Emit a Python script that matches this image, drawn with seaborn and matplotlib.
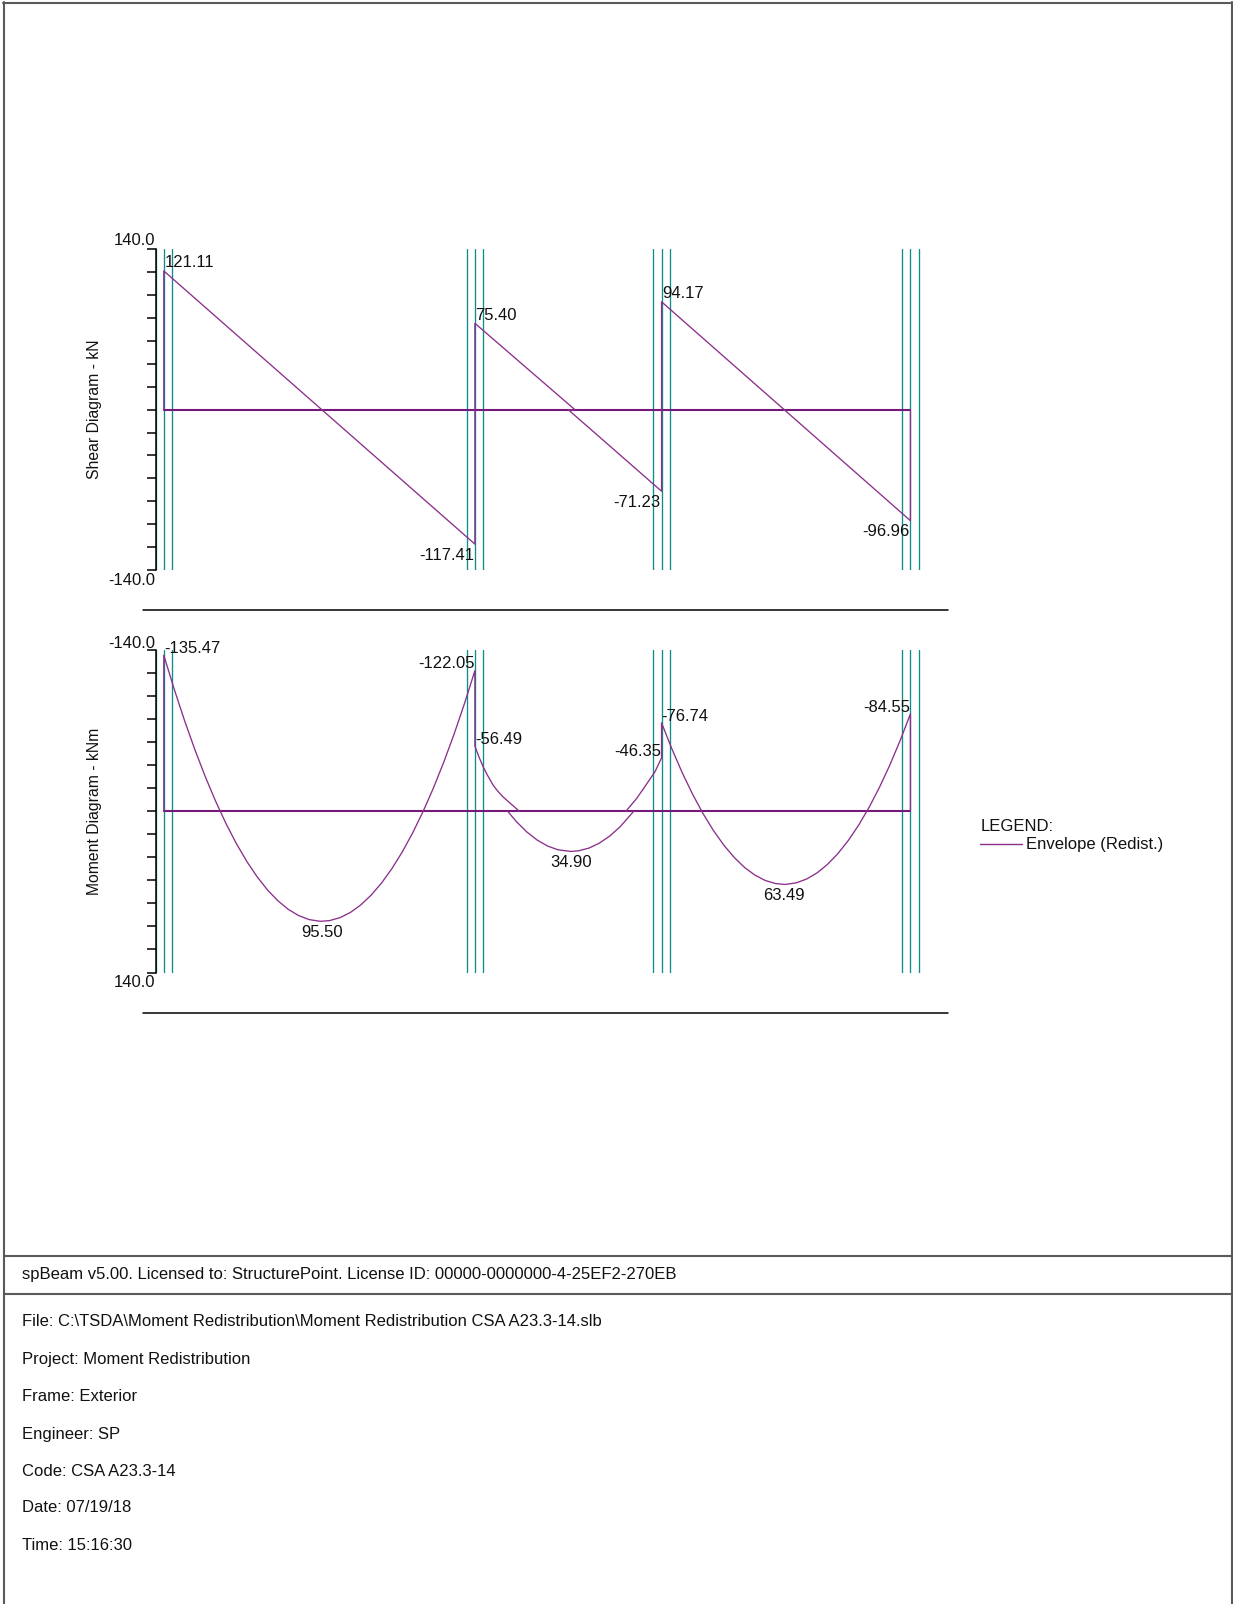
import numpy as np
import pandas as pd
import matplotlib
matplotlib.use("Agg")
import matplotlib.pyplot as plt
import seaborn as sns
from matplotlib.lines import Line2D

# ---------------- data ----------------
support_x = [0.0, 7.5, 12.0, 18.0]          # support centre lines (m)
column_width = 0.4                           # m
beam_start, beam_end = 0.0, 18.0

# shear envelope (kN), drawn as one connected path
shear_x = [0.0, 0.0, 7.5, 7.5, 9.91, 9.75, 12.0, 12.0, 18.0, 18.0]
shear_v = [0.0, 121.11, -117.41, 75.40, 0.0, 0.0, -71.23, 94.17, -96.96, 0.0]

shear_lab_x = [0.0, 7.5, 7.5, 12.0, 12.0, 18.0]
shear_lab_v = [121.11, -117.41, 75.40, -71.23, 94.17, -96.96]

# moment envelope (kNm), three segments
mom_a_x = [0.0, 0.0, 0.25, 0.5, 0.75, 1.0, 1.25, 1.5, 1.75, 2.0, 2.25, 2.5, 2.75, 3.0,
           3.25, 3.5, 3.75, 3.81, 4.0, 4.25, 4.5, 4.75, 5.0, 5.25, 5.5, 5.75, 6.0, 6.25,
           6.5, 6.75, 7.0, 7.25, 7.5, 7.5, 7.6, 7.7, 7.8, 7.94, 8.05, 8.18, 8.57]
mom_a_m = [0.0, -135.47, -106.13, -78.77, -53.41, -30.04, -8.67, 10.72, 28.10, 43.49,
           56.89, 68.31, 77.72, 85.14, 90.57, 94.02, 95.46, 95.50, 94.91, 92.36, 87.83,
           81.30, 72.78, 62.27, 49.76, 35.26, 18.77, 0.28, -20.19, -42.67, -67.14,
           -93.60, -122.05, -56.49, -47.0, -38.5, -31.5, -22.6, -17.5, -12.4, 0.0]
mom_b_x = [8.29, 8.5, 8.75, 9.0, 9.25, 9.5, 9.81, 10.0, 10.25, 10.5, 10.75, 11.0, 11.33]
mom_b_m = [0.0, 8.97, 17.93, 24.99, 30.16, 33.45, 34.90, 34.35, 31.98, 27.70, 21.55, 13.50, 0.0]
mom_c_x = [11.14, 11.40, 11.62, 11.84, 12.0, 12.0, 12.25, 12.5, 12.75, 13.0, 13.25, 13.5,
           13.75, 14.0, 14.25, 14.5, 14.75, 14.96, 15.0, 15.25, 15.5, 15.75, 16.0, 16.25,
           16.5, 16.75, 17.0, 17.25, 17.5, 17.75, 18.0, 18.0]
mom_c_m = [0.0, -11.1, -22.6, -34.2, -46.35, -76.74, -54.05, -33.35, -14.67, 2.02, 16.70,
           29.39, 40.07, 48.75, 55.43, 60.11, 62.79, 63.49, 63.46, 62.13, 58.81, 53.48,
           46.15, 36.81, 25.49, 12.15, -3.19, -20.53, -39.86, -61.21, -84.55, 0.0]

mom_lab_x = [0.0, 7.5, 7.5, 12.0, 12.0, 18.0, 3.81, 9.81, 14.96]
mom_lab_m = [-135.47, -122.05, -56.49, -46.35, -76.74, -84.55, 95.50, 34.90, 63.49]
mom_lab_align = ["left", "right", "left", "right", "left", "right", "center", "center", "center"]

y_limit = 140.0
y_step = 20.0

legend_title = "LEGEND:"
legend_label = "Envelope (Redist.)"
footer_license = "spBeam v5.00. Licensed to: StructurePoint. License ID: 00000-0000000-4-25EF2-270EB"
footer_lines = [
    "File: C:\\TSDA\\Moment Redistribution\\Moment Redistribution CSA A23.3-14.slb",
    "Project: Moment Redistribution",
    "Frame: Exterior",
    "Engineer: SP",
    "Code: CSA A23.3-14",
    "Date: 07/19/18",
    "Time: 15:16:30",
]

# ---------------- style ----------------
sns.set_style("white")
plt.rcParams["font.family"] = ["Liberation Sans", "DejaVu Sans"]

PURPLE = "#8b2f8b"
ZERO_PURPLE = "#74197a"
TEAL = "#0f8c8c"
BORDER = "#5a5a5a"

W, H = 1233, 1604
fig = plt.figure(figsize=(W / 100, H / 100), dpi=100)
fig.patch.set_facecolor("white")


def fx(px):
    return px / W


def fy(py):
    return 1 - py / H


def px_axes(left, top, right, bottom):
    return fig.add_axes([fx(left), fy(bottom), (right - left) / W, (bottom - top) / H])


PX_PER_M = 41.48
AX_LEFT, AX_RIGHT = 155.5, 935.5
x_lo = -column_width / 2
x_hi = x_lo + (AX_RIGHT - AX_LEFT) / PX_PER_M

ax_v = px_axes(AX_LEFT, 249.3, AX_RIGHT, 570.0)
ax_m = px_axes(AX_LEFT, 650.0, AX_RIGHT, 972.5)


def style_axis(ax, inverted):
    ax.set_xlim(x_lo, x_hi)
    if inverted:
        ax.set_ylim(y_limit, -y_limit)
    else:
        ax.set_ylim(-y_limit, y_limit)
    for s in ["top", "right", "bottom"]:
        ax.spines[s].set_visible(False)
    ax.spines["left"].set_color("black")
    ax.spines["left"].set_linewidth(1.1)
    ax.set_xticks([])
    ax.set_yticks(np.arange(-y_limit, y_limit + 0.1, y_step))
    ax.set_yticklabels([])
    ax.tick_params(axis="y", direction="out", length=6.7, width=1.1, colors="black", left=True)
    ax.set_xlabel("")
    ax.set_ylabel("")
    ax.patch.set_alpha(0)
    for s in support_x:
        for off in (-column_width / 2, 0.0, column_width / 2):
            ax.axvline(s + off, color=TEAL, lw=0.95, zorder=1)
    sns.lineplot(x=[beam_start, beam_end], y=[0.0, 0.0], ax=ax, color=ZERO_PURPLE,
                 lw=1.5, sort=False, estimator=None, zorder=3)


style_axis(ax_v, inverted=False)
style_axis(ax_m, inverted=True)

# shear diagram
sns.lineplot(x=shear_x, y=shear_v, ax=ax_v, color=PURPLE, lw=0.95, sort=False,
             estimator=None, zorder=4)
for x, v in zip(shear_lab_x, shear_lab_v):
    if v >= 0:
        ax_v.annotate(f"{v:.2f}", xy=(x, v), xytext=(0.5, 2.5), textcoords="offset points",
                      ha="left", va="baseline", fontsize=12, color="#111111")
    else:
        ax_v.annotate(f"{v:.2f}", xy=(x, v), xytext=(-0.5, -2.5), textcoords="offset points",
                      ha="right", va="top", fontsize=12, color="#111111")

# moment diagram
mom_df = pd.concat([
    pd.DataFrame({"x": mom_a_x, "m": mom_a_m, "seg": "a"}),
    pd.DataFrame({"x": mom_b_x, "m": mom_b_m, "seg": "b"}),
    pd.DataFrame({"x": mom_c_x, "m": mom_c_m, "seg": "c"}),
], ignore_index=True)
sns.lineplot(data=mom_df, x="x", y="m", units="seg", estimator=None, sort=False,
             ax=ax_m, color=PURPLE, lw=0.95, zorder=4)
ax_m.set_xlabel("")
ax_m.set_ylabel("")
for x, m, al in zip(mom_lab_x, mom_lab_m, mom_lab_align):
    if m < 0:
        ax_m.annotate(f"{m:.2f}", xy=(x, m), xytext=(0.0, 1.7), textcoords="offset points",
                      ha=al, va="baseline", fontsize=12, color="#111111")
    else:
        ax_m.annotate(f"{m:.2f}", xy=(x, m), xytext=(0.0, -2.6), textcoords="offset points",
                      ha=al, va="top", fontsize=12, color="#111111")

# end tick labels of the axes
for ax, top_val, bot_val, top_dy, bot_dy in [
        (ax_v, y_limit, -y_limit, 3.1, -10.8),
        (ax_m, -y_limit, y_limit, 1.4, -10.2)]:
    ax.annotate(f"{top_val:.1f}", xy=(0, top_val), xycoords=("axes fraction", "data"),
                xytext=(0, top_dy), textcoords="offset points", ha="right", va="baseline",
                fontsize=12, color="#111111")
    ax.annotate(f"{bot_val:.1f}", xy=(0, bot_val), xycoords=("axes fraction", "data"),
                xytext=(0, bot_dy), textcoords="offset points", ha="right", va="baseline",
                fontsize=12, color="#111111")

# axis titles
fig.text(fx(94), fy(409.7), "Shear Diagram - kN", rotation=90, ha="center", va="center",
         fontsize=11.3, color="#111111")
fig.text(fx(94), fy(811.3), "Moment Diagram - kNm", rotation=90, ha="center", va="center",
         fontsize=11.3, color="#111111")

# separator lines under the diagrams
for yy in (610.0, 1012.5):
    fig.add_artist(Line2D([fx(142.7), fx(947.5)], [fy(yy), fy(yy)], color="black", lw=1.1))

# legend
fig.text(fx(980.5), fy(826.5), legend_title, ha="left", va="center", fontsize=12, color="#111111")
fig.add_artist(Line2D([fx(980), fx(1022)], [fy(843.5), fy(843.5)], color=PURPLE, lw=1.0))
fig.text(fx(1025.5), fy(844.5), legend_label, ha="left", va="center", fontsize=12, color="#111111")

# page border and footer boxes
fig.add_artist(Line2D([fx(4), fx(4)], [fy(2), fy(H)], color=BORDER, lw=1.5))
fig.add_artist(Line2D([fx(3), fx(1232)], [fy(3), fy(3)], color=BORDER, lw=1.5))
fig.add_artist(Line2D([fx(1231.5), fx(1231.5)], [fy(2), fy(H)], color=BORDER, lw=1.5))
for yy in (1255.7, 1293.7):
    fig.add_artist(Line2D([fx(4), fx(1231.5)], [fy(yy), fy(yy)], color=BORDER, lw=1.5))

fig.text(fx(22.5), fy(1275.0), footer_license, ha="left", va="center", fontsize=12, color="#111111")
footer_y = [1322.0, 1359.5, 1396.7, 1434.3, 1471.0, 1508.0, 1545.0]
for txt, yy in zip(footer_lines, footer_y):
    fig.text(fx(22.5), fy(yy), txt, ha="left", va="center", fontsize=12, color="#111111")

fig.savefig("out.png", dpi=100, facecolor="white")
